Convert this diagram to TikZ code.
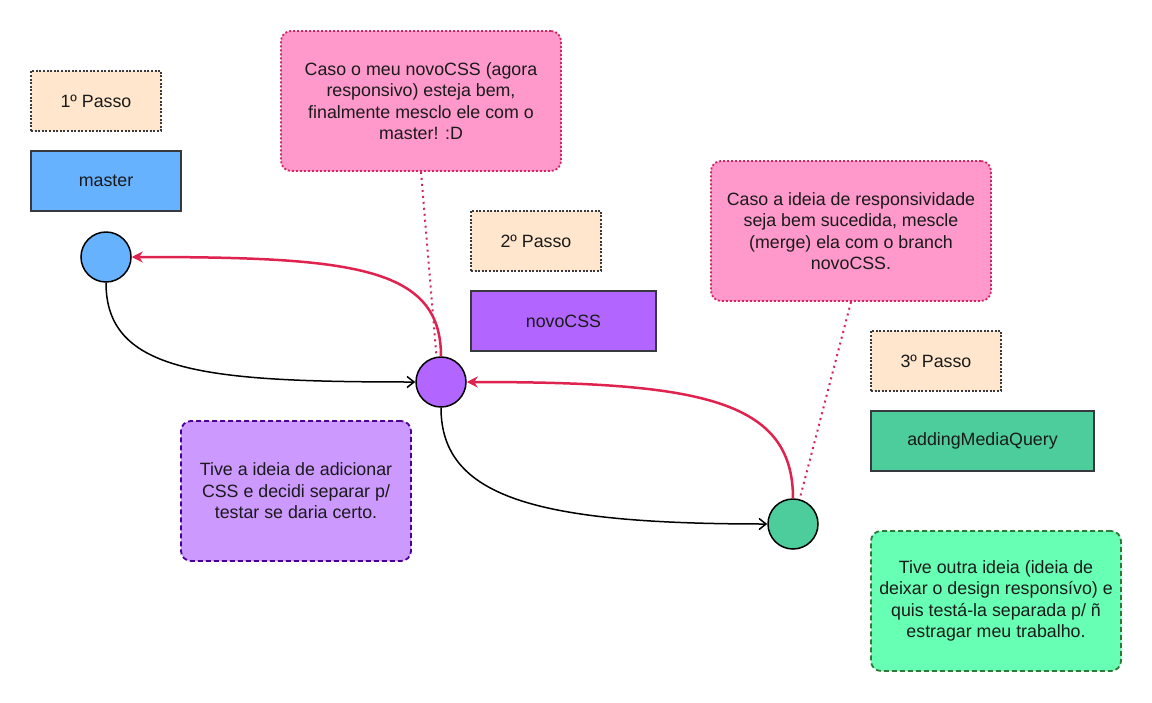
\documentclass[tikz,border=0pt]{standalone}
\usepackage{fontspec}
\setmainfont{Liberation Sans}
\usetikzlibrary{arrows.meta}

\definecolor{textcol}{HTML}{1A1A1A}
\definecolor{stepfill}{HTML}{FFE6CC}
\definecolor{stepline}{HTML}{36393D}
\definecolor{branchline}{HTML}{36393D}
\definecolor{masterfill}{HTML}{66B2FF}
\definecolor{novofill}{HTML}{B266FF}
\definecolor{mediafill}{HTML}{4CCD9B}
\definecolor{pinkfill}{HTML}{FF99CC}
\definecolor{pinkline}{HTML}{D4245F}
\definecolor{lilacfill}{HTML}{CC99FF}
\definecolor{lilacline}{HTML}{4C0099}
\definecolor{mintfill}{HTML}{66FFB3}
\definecolor{mintline}{HTML}{2D7A3A}
\definecolor{mergered}{HTML}{E0224F}

\begin{document}
\begin{tikzpicture}[x=1pt,y=-1pt,
  every node/.style={text=textcol, font=\fontsize{17.8}{21.5}\selectfont},
  stepbox/.style={draw=stepline, fill=stepfill, line width=2pt,
    dash pattern=on 2pt off 1.6pt, minimum width=130pt, minimum height=60pt, inner sep=0pt},
  branchbox/.style={draw=branchline, line width=1.8pt, minimum height=60pt, inner sep=0pt},
  commit/.style={circle, draw=black, line width=1.5pt, minimum size=50pt, inner sep=0pt},
  notebox/.style={rounded corners=10pt, line width=1.8pt, align=center,
    minimum height=140pt, inner sep=0pt},
  pinknote/.style={notebox, draw=pinkline, fill=pinkfill, dash pattern=on 2pt off 2pt,
    minimum width=280pt},
  forward/.style={draw=black, line width=1.5pt, -{Straight Barb[length=7pt,width=11pt]}},
  mergeback/.style={draw=mergered, line width=2.5pt, -{Stealth[length=11pt,width=11pt]}},
  link/.style={draw=pinkline, line width=2pt, dash pattern=on 2pt off 4pt}
]
\useasboundingbox (0,0) rectangle (1152,702);
\fill[white] (0,0) rectangle (1152,702);

% step labels
\node[stepbox] (s1) at (96,101) {1º Passo};
\node[stepbox] (s2) at (536,241) {2º Passo};
\node[stepbox] (s3) at (936,361) {3º Passo};

% branch labels
\node[branchbox, fill=masterfill, minimum width=150pt] (bm) at (106,181) {master};
\node[branchbox, fill=novofill, minimum width=185pt] (bn) at (563.5,321) {novoCSS};
\node[branchbox, fill=mediafill, minimum width=223pt] (ba) at (982.5,441) {addingMediaQuery};

% commits
\node[commit, fill=masterfill] (m) at (106,257) {};
\node[commit, fill=novofill] (n) at (441,382) {};
\node[commit, fill=mediafill] (a) at (793,524) {};

% notes
\node[pinknote] (pm) at (421,101)
  {Caso o meu novoCSS (agora\\responsivo) esteja bem,\\finalmente mesclo ele com o\\master! :D};
\node[pinknote] (pa) at (851,231)
  {Caso a ideia de responsividade\\seja bem sucedida, mescle\\(merge) ela com o branch\\novoCSS.};
\node[notebox, draw=lilacline, fill=lilacfill, dash pattern=on 5pt off 3pt,
  minimum width=230pt] (ln) at (296,491)
  {Tive a ideia de adicionar\\CSS e decidi separar p/\\testar se daria certo.};
\node[notebox, draw=mintline, fill=mintfill, dash pattern=on 5pt off 3pt,
  minimum width=250pt] (mn) at (996,601)
  {Tive outra ideia (ideia de\\deixar o design responsívo) e\\quis testá-la separada p/ ñ\\estragar meu trabalho.};

% branching off
\draw[forward] (m.south) .. controls +(0,90) and +(-210,0) .. (n.west);
\draw[forward] (n.south) .. controls +(0,90) and +(-230,0) .. (a.west);

% merging back
\draw[mergeback] (n.north) .. controls +(0,-90) and +(220,0) .. (m.east);
\draw[mergeback] (a.north) .. controls +(0,-100) and +(230,0) .. (n.east);

% note links
\draw[link] (pm.south) -- (n.100);
\draw[link] (pa.south) -- (a.75);
\end{tikzpicture}
\end{document}
